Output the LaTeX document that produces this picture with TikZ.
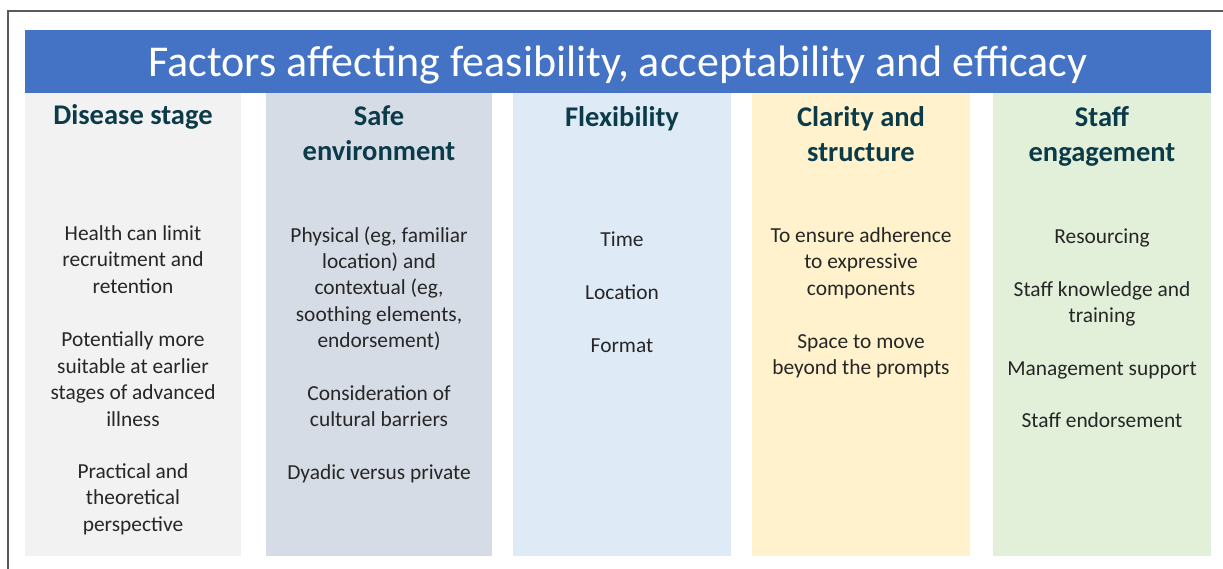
\documentclass[tikz,border=0pt]{standalone}
\usepackage{fontspec}
\setmainfont{Carlito}
\definecolor{bannerblue}{HTML}{4472C4}
\definecolor{colA}{HTML}{F2F2F2}
\definecolor{colB}{HTML}{D6DCE5}
\definecolor{colC}{HTML}{DEEBF7}
\definecolor{colD}{HTML}{FFF2CC}
\definecolor{colE}{HTML}{E2F0D9}
\definecolor{headcol}{HTML}{0B3B49}
\definecolor{bodycol}{HTML}{262626}
\definecolor{framecol}{HTML}{5A5A5A}
\tikzset{
  column/.style={fill=#1, draw=none, inner sep=0pt, minimum width=218pt, minimum height=463pt, anchor=north west},
  head/.style={anchor=base, inner sep=0pt, text=headcol, font=\fontsize{28.5}{34}\selectfont\bfseries},
  body/.style={anchor=base, inner sep=0pt, text=bodycol, font=\fontsize{21.4}{26}\selectfont},
  titletext/.style={anchor=base, inner sep=0pt, text=white, font=\fontsize{44}{52}\selectfont},
  framebox/.style={draw=framecol, line width=1.6pt}
}
\begin{document}
\begin{tikzpicture}[x=1pt,y=-1pt]
\useasboundingbox (0,0) rectangle (1223,568);
\fill[white] (0,0) rectangle (1223,568);
\draw[framebox] (8,570) -- (8,11) -- (1225,11);
% banner
\node[fill=bannerblue, inner sep=0pt, minimum width=1186pt, minimum height=63pt, anchor=north west] (banner) at (25,30) {};
\node[titletext] (title) at (618,76) {Factors affecting feasibility, acceptability and efficacy};
% columns
\node[column=colA, minimum width=216pt] (c1) at (25,93) {};
\node[column=colB, minimum width=226pt] (c2) at (266,93) {};
\node[column=colC] (c3) at (513,93) {};
\node[column=colD] (c4) at (752,93) {};
\node[column=colE] (c5) at (993,93) {};
% headings
\node[head] (h1) at (133,124) {Disease stage};
\node[head] (h2a) at (379,125.5) {Safe};
\node[head] (h2b) at (379,160.5) {environment};
\node[head] (h3) at (622,126) {Flexibility};
\node[head] (h4a) at (861,126) {Clarity and};
\node[head] (h4b) at (861,161) {structure};
\node[head] (h5a) at (1102,126) {Staff};
\node[head] (h5b) at (1102,161.5) {engagement};
% column 1
\node[body] (a1) at (133,240) {Health can limit};
\node[body] (a2) at (133,266.5) {recruitment and};
\node[body] (a3) at (133,293) {retention};
\node[body] (a4) at (133,346.5) {Potentially more};
\node[body] (a5) at (133,373) {suitable at earlier};
\node[body] (a6) at (133,399.5) {stages of advanced};
\node[body] (a7) at (133,426) {illness};
\node[body] (a8) at (133,478) {Practical and};
\node[body] (a9) at (133,504.5) {theoretical};
\node[body] (a10) at (133,531) {perspective};
% column 2
\node[body] (b1) at (379,242) {Physical (eg, familiar};
\node[body] (b2) at (379,268) {location) and};
\node[body] (b3) at (379,294.5) {contextual (eg,};
\node[body] (b4) at (379,321) {soothing elements,};
\node[body] (b5) at (379,347.5) {endorsement)};
\node[body] (b6) at (379,400) {Consideration of};
\node[body] (b7) at (379,426.5) {cultural barriers};
\node[body] (b8) at (379,479) {Dyadic versus private};
% column 3
\node[body] (d1) at (622,246.5) {Time};
\node[body] (d2) at (622,299.5) {Location};
\node[body] (d3) at (622,352.5) {Format};
% column 4
\node[body] (e1) at (861,242) {To ensure adherence};
\node[body] (e2) at (861,268.5) {to expressive};
\node[body] (e3) at (861,295) {components};
\node[body] (e4) at (861,348) {Space to move};
\node[body] (e5) at (861,374.5) {beyond the prompts};
% column 5
\node[body] (f1) at (1102,243) {Resourcing};
\node[body] (f2) at (1102,296) {Staff knowledge and};
\node[body] (f3) at (1102,322.5) {training};
\node[body] (f4) at (1102,375) {Management support};
\node[body] (f5) at (1102,427.5) {Staff endorsement};
\end{tikzpicture}
\end{document}
